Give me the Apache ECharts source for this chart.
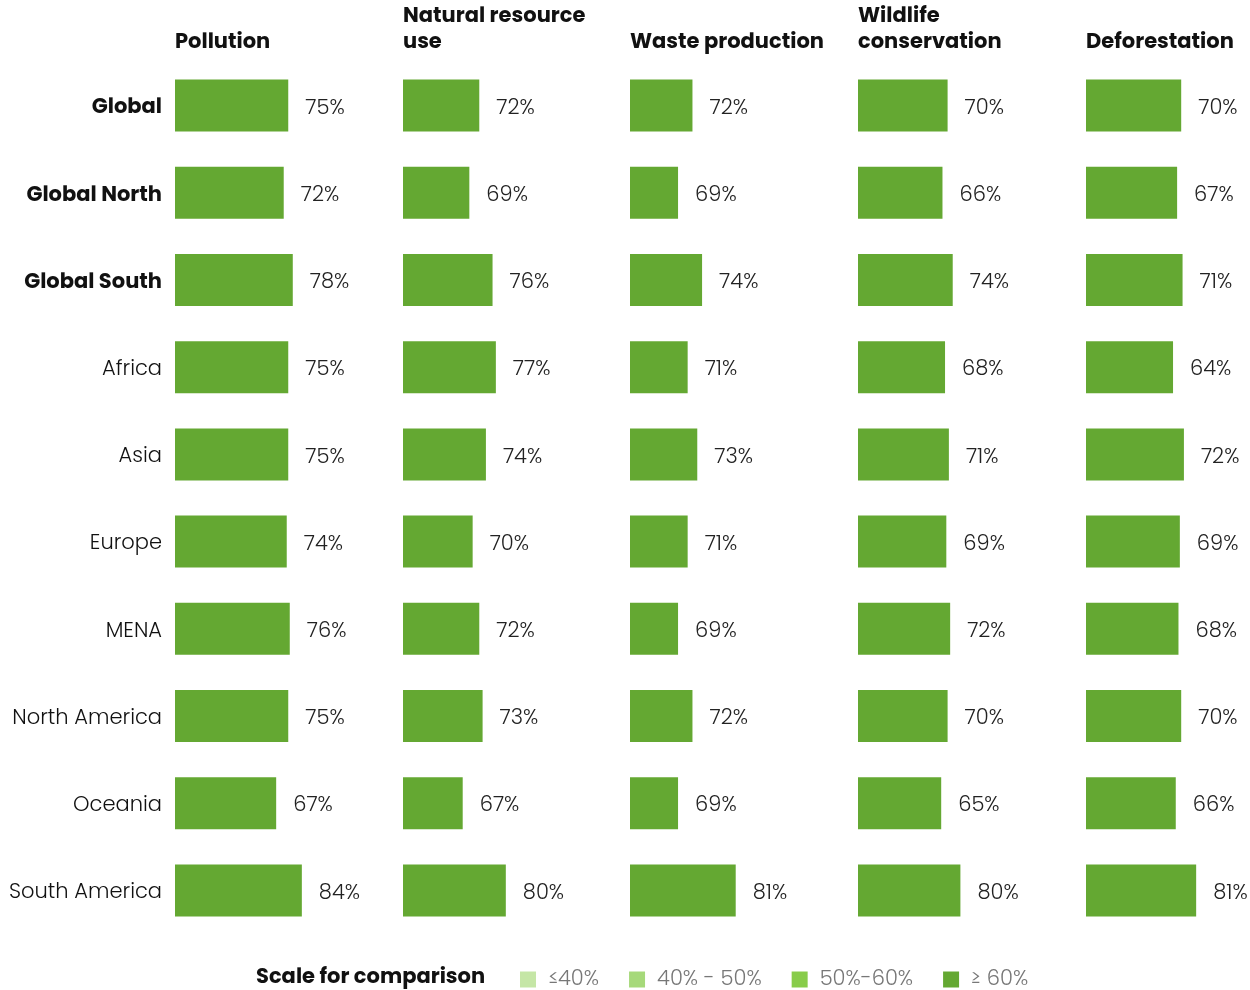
<!DOCTYPE html>
<html>
<head>
<meta charset="utf-8">
<script src="https://cdn.jsdelivr.net/npm/echarts@6/dist/echarts.min.js"></script>
<style>
  html, body { margin: 0; padding: 0; background: #fff; }
  #chart { width: 1250px; height: 990px; }
</style>
</head>
<body>
<div id="chart"></div>
<script>
// data
const regions = ['Global', 'Global North', 'Global South', 'Africa', 'Asia', 'Europe', 'MENA', 'North America', 'Oceania', 'South America'];
const boldRegions = ['Global', 'Global North', 'Global South'];
const topics = ['Pollution', 'Natural resource\nuse', 'Waste production', 'Wildlife\nconservation', 'Deforestation'];

const pollution = [75, 72, 78, 75, 75, 74, 76, 75, 67, 84];
const naturalResource = [72, 69, 76, 77, 74, 70, 72, 73, 67, 80];
const wasteProduction = [72, 69, 74, 71, 73, 71, 69, 72, 69, 81];
const wildlife = [70, 66, 74, 68, 71, 69, 72, 70, 65, 80];
const deforestation = [70, 67, 71, 64, 72, 69, 68, 70, 66, 81];
const columns = [pollution, naturalResource, wasteProduction, wildlife, deforestation];

const scaleLabels = ['≤40%', '40% - 50%', '50%-60%', '≥ 60%'];
const scaleColors = ['#c5e6a6', '#a6d97a', '#88cc4a', '#64a832'];

// layout per column (the source uses a different scale in each column)
const colLeft = [175, 403, 630, 858, 1086];
const axisMin = [0, 49, 59, 0, 0];
const axisMax = [100, 109, 100, 100, 100];
const gridWidth = [151, 199, 197, 128, 136];

const FONT = 'Poppins, Inter, "Noto Sans", sans-serif';

const chart = echarts.init(document.getElementById('chart'));

const grids = [], xAxes = [], yAxes = [], series = [], titles = [];
columns.forEach((vals, i) => {
  grids.push({ left: colLeft[i], top: 62, width: gridWidth[i], height: 872 });
  xAxes.push({ type: 'value', gridIndex: i, min: axisMin[i], max: axisMax[i], show: false });
  yAxes.push({
    type: 'category', gridIndex: i, data: regions, inverse: true,
    axisLine: { show: false }, axisTick: { show: false },
    axisLabel: {
      show: i === 0, margin: 13, fontFamily: FONT, fontSize: 21, color: '#111',
      formatter: v => boldRegions.includes(v) ? '{b|' + v + '}' : '{n|' + v + '}',
      rich: {
        b: { fontFamily: FONT, fontSize: 21, fontWeight: 'bold', color: '#111', padding: [5, 0, 0, 0] },
        n: { fontFamily: FONT, fontSize: 21, fontWeight: 300, color: '#111', padding: [5, 0, 0, 0] }
      }
    }
  });
  series.push({
    type: 'bar', xAxisIndex: i, yAxisIndex: i, data: vals, barWidth: 52,
    label: {
      show: true, position: 'right', distance: 17, offset: [0, 3], formatter: '{c}%',
      fontFamily: FONT, fontSize: 21, fontWeight: 300, color: '#222'
    }
  });
  const lines = topics[i].split('\n').length;
  titles.push({
    text: topics[i], left: colLeft[i], top: lines === 1 ? 30 : 4, padding: 0,
    textStyle: { fontFamily: FONT, fontSize: 21, fontWeight: 'bold', color: '#111', lineHeight: 26 }
  });
});

titles.push({
  text: 'Scale for comparison', left: 256, top: 965, padding: 0,
  textStyle: { fontFamily: FONT, fontSize: 21, fontWeight: 'bold', color: '#111', lineHeight: 26 }
});

const option = {
  animation: false,
  backgroundColor: '#fff',
  title: titles,
  grid: grids,
  xAxis: xAxes,
  yAxis: yAxes,
  series: series,
  visualMap: {
    type: 'piecewise',
    seriesIndex: [0, 1, 2, 3, 4],
    dimension: 0,
    orient: 'horizontal',
    left: 520, top: 969, padding: 0,
    itemWidth: 16, itemHeight: 16, itemGap: 30, textGap: 12,
    itemSymbol: 'rect',
    selectedMode: false,
    pieces: [
      { lte: 40, label: scaleLabels[0], color: scaleColors[0] },
      { gt: 40, lte: 50, label: scaleLabels[1], color: scaleColors[1] },
      { gt: 50, lte: 60, label: scaleLabels[2], color: scaleColors[2] },
      { gt: 60, label: scaleLabels[3], color: scaleColors[3] }
    ],
    textStyle: { fontFamily: FONT, fontSize: 21, fontWeight: 300, color: '#777' }
  }
};

chart.setOption(option);
</script>
</body>
</html>
